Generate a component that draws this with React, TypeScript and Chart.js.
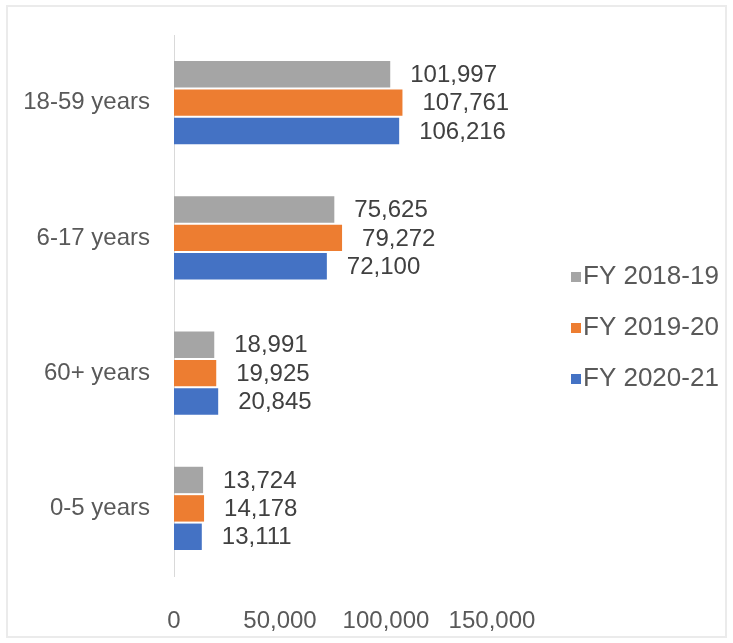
import React, { useEffect, useRef } from "react";
import { Chart, registerables } from "chart.js";

Chart.register(...registerables);

const categories = ["18-59 years", "6-17 years", "60+ years", "0-5 years"];
const seriesNames = ["FY 2018-19", "FY 2019-20", "FY 2020-21"];
const fy201819 = [101997, 75625, 18991, 13724];
const fy201920 = [107761, 79272, 19925, 14178];
const fy202021 = [106216, 72100, 20845, 13111];
const xTicks = [0, 50000, 100000, 150000];

const colors = ["#A5A5A5", "#ED7D31", "#4472C4"];
const FONT = "'Liberation Sans', Arial, sans-serif";

const fmt = (v: number) => v.toLocaleString("en-US");

const dataLabelPlugin = {
  id: "dataLabelPlugin",
  afterDatasetsDraw(chart: any) {
    const ctx = chart.ctx;
    ctx.save();
    ctx.font = `24px ${FONT}`;
    ctx.fillStyle = "#404040";
    ctx.textAlign = "left";
    ctx.textBaseline = "middle";
    chart.data.datasets.forEach((ds: any, di: number) => {
      const meta = chart.getDatasetMeta(di);
      meta.data.forEach((el: any, i: number) => {
        ctx.fillText(fmt(ds.data[i]), el.x + 20, el.y + 1);
      });
    });
    ctx.restore();
  },
};

const legendPlugin = {
  id: "sideLegend",
  afterDraw(chart: any, _args: any, opts: any) {
    const ctx = chart.ctx;
    ctx.save();
    ctx.font = `26px ${FONT}`;
    ctx.textAlign = "left";
    ctx.textBaseline = "middle";
    chart.data.datasets.forEach((ds: any, i: number) => {
      const yc = opts.y + i * opts.spacing;
      ctx.fillStyle = ds.backgroundColor;
      ctx.fillRect(opts.x, yc - 4, 10, 10);
      ctx.fillStyle = "#595959";
      ctx.fillText(ds.label, opts.x + 12, yc + 1);
    });
    ctx.restore();
  },
};

export default function App() {
  const ref = useRef<HTMLCanvasElement | null>(null);

  useEffect(() => {
    if (!ref.current) return;
    const chart = new Chart(ref.current, {
      type: "bar",
      data: {
        labels: categories,
        datasets: [fy201819, fy201920, fy202021].map((d, i) => ({
          label: seriesNames[i],
          data: d,
          backgroundColor: colors[i],
          borderWidth: 0,
          categoryPercentage: 0.63,
          barPercentage: 0.93,
        })),
      },
      options: {
        indexAxis: "y",
        animation: false,
        responsive: true,
        maintainAspectRatio: false,
        layout: { padding: { top: 28, right: 233, bottom: 0, left: 0 } },
        plugins: {
          legend: { display: false },
          tooltip: { enabled: false },
          sideLegend: { x: 563, y: 269, spacing: 51 },
        } as any,
        scales: {
          x: {
            min: 0,
            max: 150000,
            afterBuildTicks: (s: any) => {
              s.ticks = xTicks.map((v) => ({ value: v }));
            },
            afterFit: (s: any) => {
              s.height = 60;
              s.paddingLeft = 0;
              s.paddingRight = 0;
            },
            grid: { display: false },
            border: { display: false },
            ticks: {
              padding: 23,
              color: "#595959",
              font: { family: FONT, size: 24 },
              callback: (v: any) => fmt(Number(v)),
            },
          },
          y: {
            afterFit: (s: any) => {
              s.width = 166;
              s.paddingTop = 0;
              s.paddingBottom = 0;
            },
            grid: { display: false },
            border: { display: true, color: "#d9d9d9", width: 1 },
            ticks: {
              padding: 16,
              color: "#595959",
              font: { family: FONT, size: 24 },
            },
          },
        },
      },
      plugins: [dataLabelPlugin, legendPlugin],
    });
    return () => chart.destroy();
  }, []);

  return (
    <div
      style={{
        position: "absolute",
        left: 6,
        top: 5,
        width: 721,
        height: 633,
        border: "2px solid #ebebeb",
        boxSizing: "border-box",
        background: "#fff",
      }}
    >
      <canvas ref={ref} />
    </div>
  );
}
